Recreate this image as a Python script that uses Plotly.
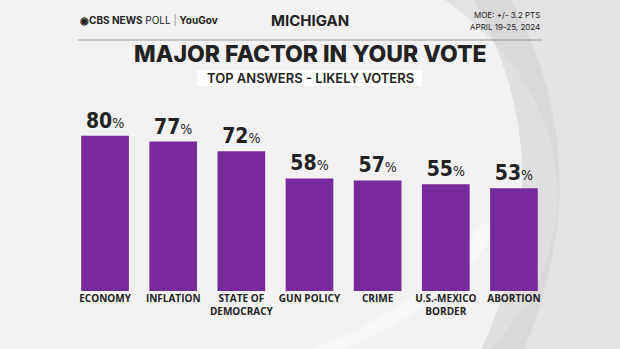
import plotly.graph_objects as go

categories = ["ECONOMY", "INFLATION", "STATE OF<br>DEMOCRACY", "GUN POLICY", "CRIME", "U.S.-MEXICO<br>BORDER", "ABORTION"]
values = [80, 77, 72, 58, 57, 55, 53]

W, H = 620, 349
ML, MR, MT, MB = 71, 72, 97, 58
labels = [f"<b>{v}</b><span style='font-size:14px'>%</span>" for v in values]

fig = go.Figure()
fig.add_trace(go.Bar(
    x=categories, y=values,
    marker=dict(color="#782a9c", line=dict(width=0)),
    width=0.70,
    text=labels, textposition="outside", cliponaxis=False,
    textfont=dict(family="DejaVu Sans Condensed, Liberation Sans Narrow, sans-serif", size=21, color="#222222"),
    hoverinfo="skip",
))

def fx(x):
    return (x - ML) / (W - ML - MR)

def fy(y):
    return (H - MB - y) / (H - MT - MB)

shapes = [
    dict(type="circle", xref="paper", yref="paper", x0=-0.55, x1=1.02, y0=-0.9, y1=1.9,
         fillcolor="#f2f2f2", line=dict(width=0), layer="below"),
    dict(type="path", xref="paper", yref="paper",
         path="M 0.82 1.6 Q 1.05 0.7 0.86 -0.3 L 0.95 -0.3 Q 1.12 0.7 0.9 1.6 Z",
         fillcolor="#d2d2d2", line=dict(width=0), layer="below", opacity=0.6),
    dict(type="path", xref="paper", yref="paper",
         path="M 0.45 -0.35 Q 0.75 -0.1 0.86 0.35 L 0.9 0.35 Q 0.8 -0.1 0.52 -0.35 Z",
         fillcolor="#fafafa", line=dict(width=0), layer="below", opacity=0.7),
    dict(type="line", xref="paper", yref="paper", x0=fx(78), x1=fx(542), y0=fy(40), y1=fy(40),
         line=dict(color="#9a9a9a", width=1)),
    dict(type="rect", xref="paper", yref="paper", layer="below",
         x0=fx(197), x1=fx(422), y0=fy(86), y1=fy(70),
         fillcolor="#ffffff", line=dict(width=0)),
]

fig.update_layout(
    width=W, height=H,
    margin=dict(l=ML, r=MR, t=MT, b=MB),
    paper_bgcolor="#e3e3e3", plot_bgcolor="rgba(0,0,0,0)",
    showlegend=False, bargap=0.3,
    xaxis=dict(showgrid=False, zeroline=False, showline=False, ticks="",
               tickfont=dict(family="Open Sans, sans-serif", size=10, color="#222222", weight=700),
               fixedrange=True),
    yaxis=dict(range=[0, 100], visible=False, fixedrange=True),
    shapes=shapes,
)

annotations = [
    dict(text="<b>◉CBS NEWS</b> POLL <span style='color:#999'>|</span> <b>YouGov</b>", x=78, y=20, xanchor="left",
         font=dict(family="Inter, sans-serif", size=10, color="#222")),
    dict(text="<b>MICHIGAN</b>", x=310, y=20, xanchor="center",
         font=dict(family="Inter, sans-serif", size=15, color="#222")),
    dict(text="MOE: +/- 3.2 PTS", x=542, y=15, xanchor="right",
         font=dict(family="Inter, sans-serif", size=8, color="#222")),
    dict(text="APRIL 19-25, 2024", x=542, y=27, xanchor="right",
         font=dict(family="Inter, sans-serif", size=8, color="#222")),
    dict(text="MAJOR FACTOR IN YOUR VOTE", x=310, y=54, xanchor="center",
         font=dict(family="Inter, sans-serif", size=23, color="#222", weight=800)),
    dict(text="TOP ANSWERS - LIKELY VOTERS", x=310, y=78, xanchor="center",
         font=dict(family="Inter, sans-serif", size=13, color="#222", weight=600)),
]
for a in annotations:
    fig.add_annotation(xref="paper", yref="paper", x=fx(a["x"]), y=fy(a["y"]),
                       xanchor=a["xanchor"], yanchor="middle",
                       text=a["text"], showarrow=False, font=a["font"])

fig.write_html("out.html")
